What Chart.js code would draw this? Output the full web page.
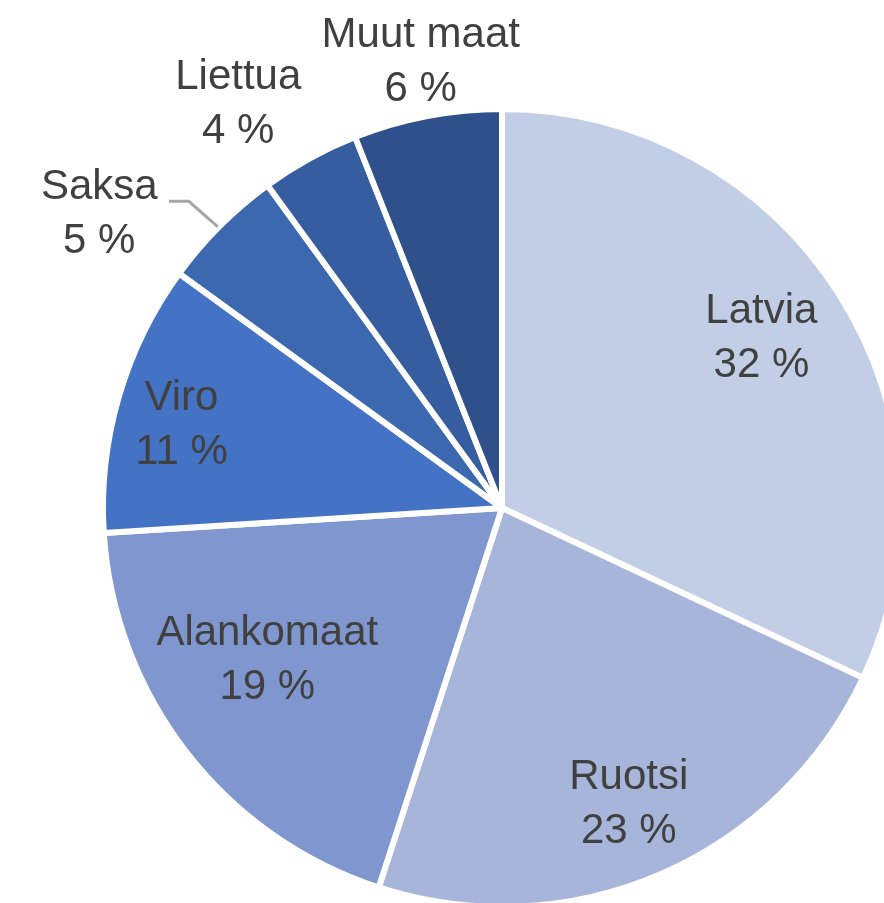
<!DOCTYPE html>
<html>
<head>
<meta charset="utf-8">
<script src="https://cdn.jsdelivr.net/npm/chart.js@4"></script>
<style>
  html, body { margin: 0; padding: 0; background: #fff; overflow: hidden; }
  #wrap { position: relative; width: 1004px; height: 1016px; }
</style>
</head>
<body>
<div id="wrap"><canvas id="pie-countries"></canvas></div>
<script>
const countries = ['Latvia', 'Ruotsi', 'Alankomaat', 'Viro', 'Saksa', 'Liettua', 'Muut maat'];
const shares = [32, 23, 19, 11, 5, 4, 6];
const colors = ['#C2CDE6', '#A7B5DA', '#8096CE', '#4472C4', '#3C68B0', '#355DA0', '#30508C'];

// label placement: fraction of radius along the slice middle, then a nudge in px
const labelRadius = [0.77, 0.80, 0.70, 0.80, 1.19, 1.19, 1.14];
const labelNudge = [[0, -5], [0, 3], [-14, -19], [-14, 6], [-67, 42], [-35, 13], [4, 1]];
const leaderLine = [false, false, false, false, true, false, false];

const sliceLabels = {
  id: 'sliceLabels',
  afterDatasetsDraw(chart) {
    const ctx = chart.ctx;
    const arcs = chart.getDatasetMeta(0).data;
    ctx.save();
    ctx.font = '42px "Liberation Sans", Arial, sans-serif';
    ctx.fillStyle = '#404040';
    ctx.textAlign = 'center';
    ctx.textBaseline = 'middle';
    arcs.forEach((arc, i) => {
      const { x, y, startAngle, endAngle, outerRadius } = arc.getProps(['x', 'y', 'startAngle', 'endAngle', 'outerRadius'], true);
      const mid = (startAngle + endAngle) / 2;
      const tx = x + Math.cos(mid) * outerRadius * labelRadius[i] + labelNudge[i][0];
      const ty = y + Math.sin(mid) * outerRadius * labelRadius[i] + labelNudge[i][1];
      if (leaderLine[i]) {
        const ex = x + Math.cos(mid) * outerRadius;
        const ey = y + Math.sin(mid) * outerRadius;
        ctx.strokeStyle = '#A6A6A6';
        ctx.lineWidth = 3;
        ctx.beginPath();
        ctx.moveTo(ex - 2, ey + 1);
        ctx.lineTo(ex - 31, ty - 13);
        ctx.lineTo(ex - 51, ty - 13);
        ctx.stroke();
      }
      ctx.fillText(countries[i], tx, ty - 27);
      ctx.fillText(shares[i] + ' %', tx, ty + 27);
    });
    ctx.restore();
  }
};

const configCountries = {
  type: 'pie',
  data: {
    labels: countries,
    datasets: [{
      data: shares,
      backgroundColor: colors,
      borderColor: '#ffffff',
      borderWidth: 6
    }]
  },
  options: {
    responsive: true,
    maintainAspectRatio: false,
    animation: false,
    layout: { padding: { left: 100, right: 100, top: 106, bottom: 106 } },
    plugins: {
      legend: { display: false },
      tooltip: { enabled: false }
    }
  },
  plugins: [sliceLabels]
};

let pieCountries = new Chart(document.getElementById('pie-countries'), configCountries);
</script>
</body>
</html>
